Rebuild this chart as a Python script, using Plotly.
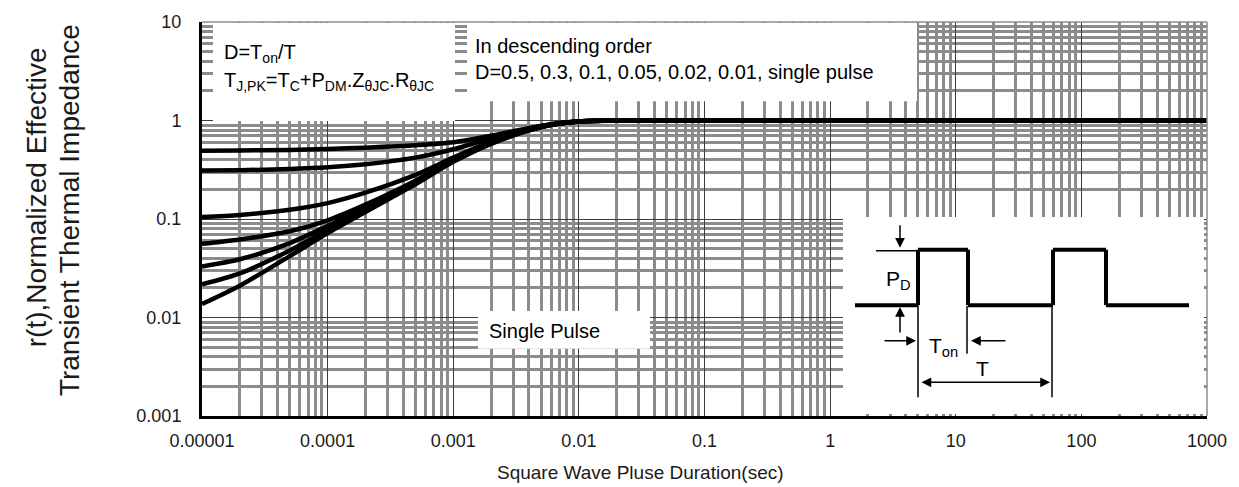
import plotly.graph_objects as go

# ---------------- data ----------------
pulse_time = [1e-5, 2e-5, 5e-5, 1e-4, 2e-4, 5e-4, 1e-3, 2e-3, 5e-3, 1e-2, 3e-2, 1e-1, 1, 10, 100, 1000]
r_d05 = [0.493, 0.496, 0.503, 0.513, 0.53, 0.56, 0.60, 0.70, 0.88, 0.98, 1, 1, 1, 1, 1, 1]
r_d03 = [0.31, 0.313, 0.322, 0.335, 0.36, 0.42, 0.51, 0.66, 0.88, 0.98, 1, 1, 1, 1, 1, 1]
r_d01 = [0.105, 0.11, 0.124, 0.145, 0.185, 0.28, 0.42, 0.61, 0.87, 0.975, 1, 1, 1, 1, 1, 1]
r_d005 = [0.056, 0.062, 0.075, 0.097, 0.14, 0.245, 0.40, 0.60, 0.865, 0.975, 1, 1, 1, 1, 1, 1]
r_d002 = [0.033, 0.039, 0.057, 0.085, 0.13, 0.235, 0.39, 0.59, 0.86, 0.975, 1, 1, 1, 1, 1, 1]
r_d001 = [0.0217, 0.028, 0.048, 0.078, 0.123, 0.23, 0.385, 0.585, 0.86, 0.975, 1, 1, 1, 1, 1, 1]
r_single = [0.0137, 0.021, 0.042, 0.072, 0.118, 0.225, 0.38, 0.58, 0.86, 0.975, 1, 1, 1, 1, 1, 1]
series = [("D=0.5", r_d05), ("D=0.3", r_d03), ("D=0.1", r_d01), ("D=0.05", r_d005),
          ("D=0.02", r_d002), ("D=0.01", r_d001), ("single pulse", r_single)]

x_tickvals = [1e-5, 1e-4, 1e-3, 1e-2, 1e-1, 1, 10, 100, 1000]
x_ticktext = ["0.00001", "0.0001", "0.001", "0.01", "0.1", "1", "10", "100", "1000"]
y_tickvals = [0.001, 0.01, 0.1, 1, 10]
y_ticktext = ["0.001", "0.01", "0.1", "1", "10"]

# ---------------- layout geometry ----------------
W, H = 1239, 487
L, R, T, B = 202, 32, 18, 71
PW, PH = W - L - R, H - T - B


def P(xp, yp):
    return (xp - L) / PW, (T + PH - yp) / PH


FONT = "Arial, Liberation Sans, sans-serif"

fig = go.Figure()
for name, vals in series:
    fig.add_trace(go.Scatter(x=pulse_time, y=vals, mode="lines", name=name,
                             line=dict(color="black", width=4.5, shape="spline", smoothing=0.8),
                             showlegend=False, hoverinfo="skip"))

minor_x = [m * 10 ** e for e in range(-5, 3) for m in range(2, 10)]
minor_y = [m * 10 ** e for e in range(-3, 1) for m in range(2, 10)]

fig.update_xaxes(type="log", range=[-5, 3], tickmode="array", tickvals=x_tickvals, ticktext=x_ticktext,
                 showgrid=True, gridcolor="#3c3c3c", gridwidth=1,
                 minor=dict(tickmode="array", tickvals=minor_x, showgrid=True, gridcolor="#8c8c8c", gridwidth=2.5, ticks=""),
                 showline=True, linecolor="black", linewidth=3, ticks="", zeroline=False,
                 tickfont=dict(family=FONT, size=18, color="#1a1a1a"), ticklabelstandoff=6)
fig.update_yaxes(type="log", range=[-3, 1], tickmode="array", tickvals=y_tickvals, ticktext=y_ticktext,
                 showgrid=True, gridcolor="#3c3c3c", gridwidth=1,
                 minor=dict(tickmode="array", tickvals=minor_y, showgrid=True, gridcolor="#8c8c8c", gridwidth=2.5, ticks=""),
                 showline=True, linecolor="black", linewidth=3, ticks="", zeroline=False,
                 tickfont=dict(family=FONT, size=18, color="#1a1a1a"), ticklabelstandoff=14)

shapes = []


def white_box(x0, y0, x1, y1):
    a = P(x0, y1)
    b = P(x1, y0)
    shapes.append(dict(type="rect", xref="paper", yref="paper", x0=a[0], y0=a[1], x1=b[0], y1=b[1],
                       fillcolor="white", line=dict(width=0), layer="above"))


white_box(213, 19, 455, 118)     # formula box
white_box(467, 19, 917, 98)      # legend text box
white_box(478, 310, 650, 348)    # single pulse label
white_box(843, 215, 1204, 414)   # inset diagram

# plot border top / right (thin gray)
shapes.append(dict(type="line", xref="paper", yref="paper", x0=0, x1=1, y0=1, y1=1,
                   line=dict(color="#8c8c8c", width=1.5), layer="above"))
shapes.append(dict(type="line", xref="paper", yref="paper", x0=1, x1=1, y0=0, y1=1,
                   line=dict(color="#8c8c8c", width=1.5), layer="above"))


def seg(x0, y0, x1, y1, w=1.5):
    a = P(x0, y0)
    b = P(x1, y1)
    shapes.append(dict(type="line", xref="paper", yref="paper", x0=a[0], y0=a[1], x1=b[0], y1=b[1],
                       line=dict(color="black", width=w), layer="above"))


# pulse waveform (decorative inset)
wave = [(855, 304), (918, 304), (918, 248), (968, 248), (968, 304), (1053, 304),
        (1053, 248), (1106, 248), (1106, 304), (1189, 304)]
for (xa, ya), (xb, yb) in zip(wave[:-1], wave[1:]):
    seg(xa, ya, xb, yb, 4)
seg(876, 249, 918, 249, 1.5)
seg(918, 304, 918, 397, 1.5)
seg(967, 305, 967, 353, 1.5)
seg(1052, 305, 1052, 397, 1.5)

fig.update_layout(shapes=shapes)

ann = []


def text(xp, yp, s, size=20, xanchor="left", color="black", **kw):
    px, py = P(xp, yp)
    ann.append(dict(x=px, y=py, xref="paper", yref="paper", text=s, showarrow=False,
                    xanchor=xanchor, yanchor="middle", font=dict(family=FONT, size=size, color=color), **kw))


def arrow(xh, yh, xt, yt, side="end"):
    px, py = P(xh, yh)
    ann.append(dict(x=px, y=py, xref="paper", yref="paper", text="", showarrow=True,
                    ax=xt - xh, ay=yt - yh, arrowhead=2, arrowsize=1.3, arrowwidth=1.5,
                    arrowcolor="black", arrowside=side, standoff=0, startstandoff=0))


text(222, 50, "D=T<sub>on</sub>/T")
text(222, 78, "T<sub>J,PK</sub>=T<sub>C</sub>+P<sub>DM</sub>.Z<sub>θJC</sub>.R<sub>θJC</sub>")
text(473, 42, "In descending order")
text(473, 69, "D=0.5, 0.3, 0.1, 0.05, 0.02, 0.01, single pulse")
text(487, 330, "Single Pulse")

text(898, 279, "P<sub>D</sub>", size=21, xanchor="center")
text(943, 346, "T<sub>on</sub>", size=21, xanchor="center")
text(982, 368, "T", size=21, xanchor="center")

arrow(900, 246, 900, 222)
arrow(900, 306, 900, 333)
arrow(916, 340, 883, 340)
arrow(971, 340, 1007, 340)
arrow(1050, 382, 920, 382, side="end+start")

# axis titles
text(640, 473, "Square Wave Pluse Duration(sec)", size=19, xanchor="center", color="#1a1a1a")
text(36, 195, "r(t),Normalized Effective", size=28, xanchor="center", color="#1a1a1a", textangle=-90)
text(69, 208, "Transient Thermal Impedance", size=28, xanchor="center", color="#1a1a1a", textangle=-90)

fig.update_layout(annotations=ann, width=W, height=H, autosize=False,
                  margin=dict(l=L, r=R, t=T, b=B, pad=0),
                  paper_bgcolor="white", plot_bgcolor="white", showlegend=False)

fig.write_html("out.html", config={"displayModeBar": False},
               post_script="document.body.style.margin='0px';")
